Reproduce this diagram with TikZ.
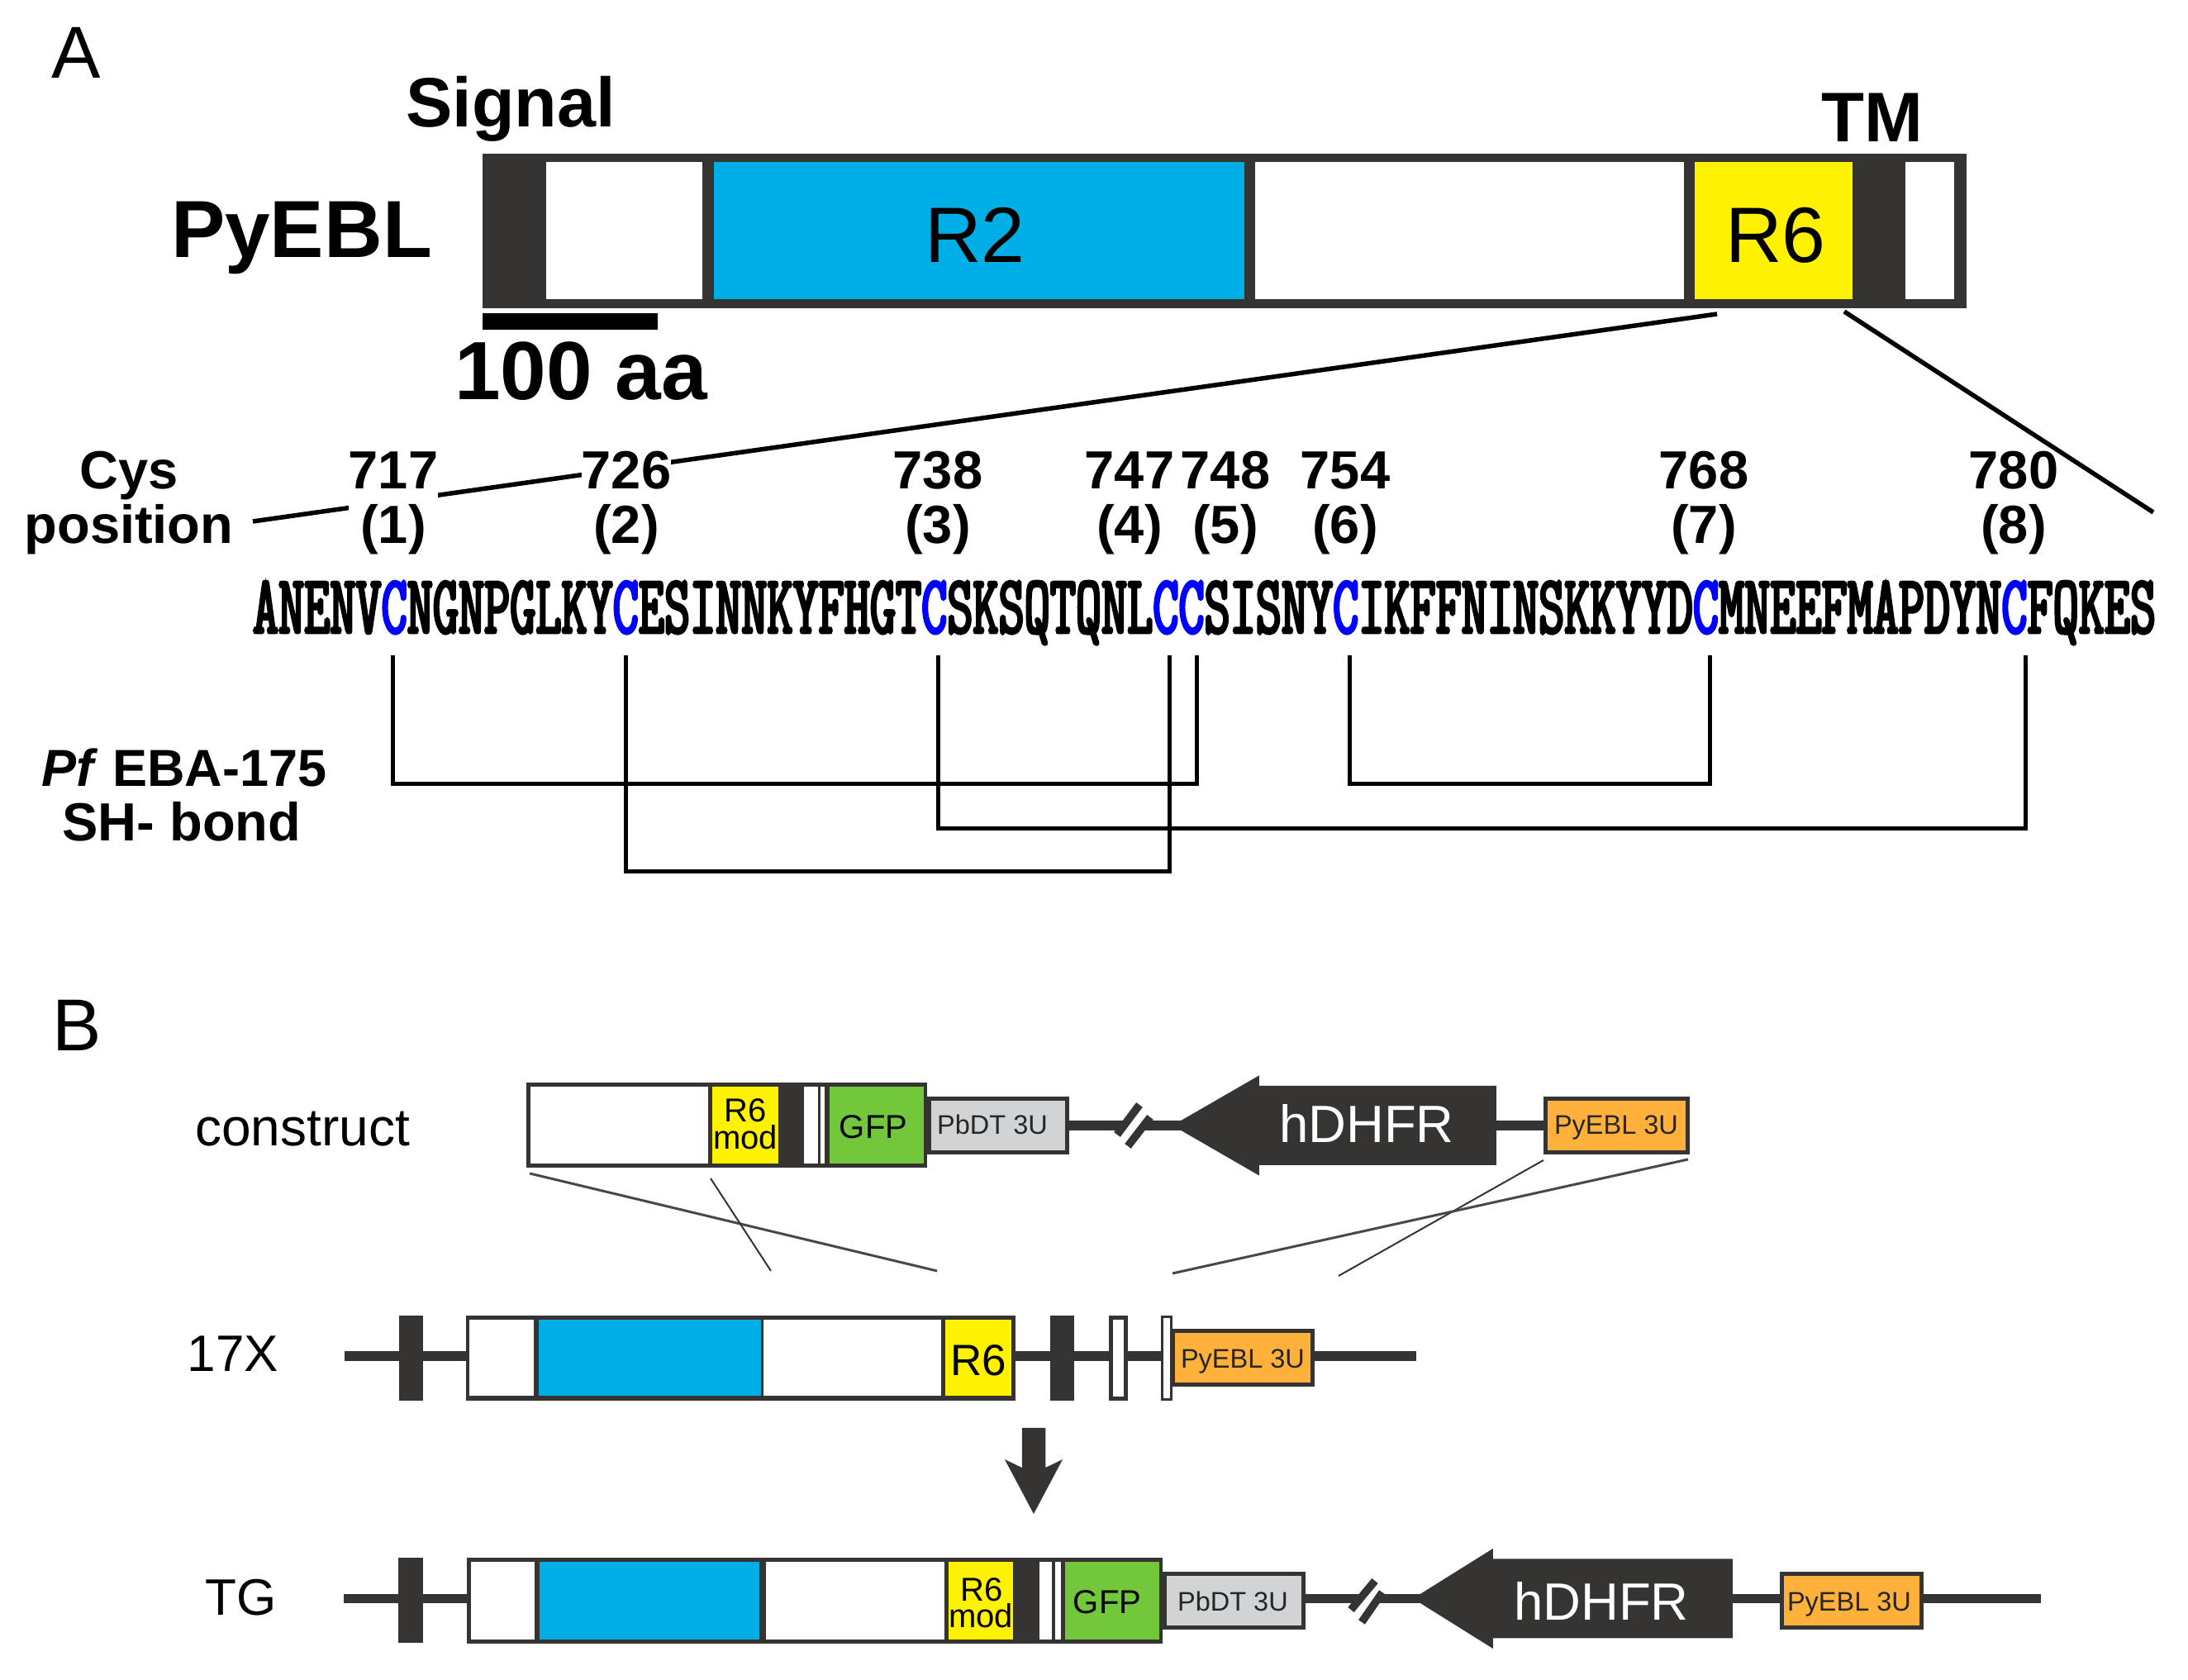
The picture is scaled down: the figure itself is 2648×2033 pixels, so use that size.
\documentclass[tikz,border=0pt]{standalone}
\usepackage{fontspec}
\setmainfont{Liberation Sans}
\newfontfamily\seqfont[FakeBold=3,FakeStretch=0.587]{Latin Modern Mono}
\usetikzlibrary{shapes.arrows}
\definecolor{darkgene}{HTML}{363432}
\definecolor{r2blue}{HTML}{00AEE6}
\definecolor{r6yellow}{HTML}{FFF200}
\definecolor{gfpgreen}{HTML}{72C83A}
\definecolor{utrgray}{HTML}{D1D3D4}
\definecolor{utrorange}{HTML}{FFB13B}
\definecolor{cysblue}{HTML}{0000FF}
\newcommand{\cys}{\textcolor{cysblue}{C}}
\tikzset{
  seg/.style = {rectangle,inner sep=0pt,outer sep=0pt,draw=none},
  dark/.style = {seg,fill=darkgene},
  utr/.style = {seg,draw=darkgene,line width=0.5,minimum height=6.5pt},
  lab/.style = {inner sep=0pt,anchor=base,text=black},
  big/.style = {lab,font=\bfseries\fontsize{9.8}{10}\selectfont},
  small/.style = {lab,font=\fontsize{4}{4}\selectfont},
  utrtext/.style = {lab,font=\fontsize{3.25}{4}\selectfont,text=black!85},
  rowname/.style = {lab,font=\fontsize{6.4}{8}\selectfont},
  dhfr/.style = {seg,fill=darkgene,single arrow,shape border rotate=180,anchor=tip,
    inner ysep=4.6pt,minimum height=39.2pt,single arrow head extend=1.25pt,
    single arrow tip angle=60},
  dhfrtext/.style = {lab,font=\fontsize{6.35}{8}\selectfont,text=white},
  cyspos/.style = {seg,fill=white,align=center,font=\bfseries\fontsize{6.5}{6.6}\selectfont},
  zoomline/.style = {draw=black,line width=0.55},
  bond/.style = {draw=black,line width=0.5},
  backbone/.style = {draw=darkgene,line width=1.15},
  breakbar/.style = {draw=darkgene,line width=0.95},
  cross/.style = {draw=darkgene!90,line width=0.3},
  thincross/.style = {draw=darkgene,line width=0.2},
}
\begin{document}
\begin{tikzpicture}[x=0.1pt,y=-0.1pt]
    \useasboundingbox (0,0) rectangle (2648,2033);

    % panel A
    \node[lab,font=\fontsize{8.9}{10}\selectfont] at (92,95) (panelA) {A};
    \node[big,font=\bfseries\fontsize{8.45}{10}\selectfont] at (618,154) (signal) {Signal};
    \node[big,font=\bfseries\fontsize{8.5}{10}\selectfont] at (2266,172) (tm) {TM};
    \node[big] at (365,312) (pyebl) {PyEBL};

    \node[dark,minimum width=179.6pt,minimum height=18.7pt] at (1482,279.5) (protein) {};
    \node[seg,fill=white,minimum width=18.9pt,minimum height=16.65pt] at (755.5,279.25) (ectoA) {};
    \node[seg,fill=r2blue,minimum width=64.2pt,minimum height=16.65pt] at (1185,279.25) (regionR2) {};
    \node[seg,fill=white,minimum width=51.9pt,minimum height=16.65pt] at (1778.5,279.25) (ectoB) {};
    \node[seg,fill=r6yellow,minimum width=19.1pt,minimum height=16.65pt] at (2146.5,279.25) (regionR6) {};
    \node[seg,fill=white,minimum width=5.9pt,minimum height=16.65pt] at (2335.5,279.25) (cyto) {};
    \node[lab,font=\fontsize{9.5}{10}\selectfont] at (1180,318) (textR2) {R2};
    \node[lab,font=\fontsize{9.5}{10}\selectfont] at (2149,318) (textR6) {R6};

    \node[seg,fill=black,minimum width=21.2pt,minimum height=2pt] at (690,389) (scalebar) {};
    \node[big,font=\bfseries\fontsize{10}{10}\selectfont] at (703,484) (scaletext) {100 aa};

    % lines from R6 down to the sequence
    \coordinate (zoomL) at (2078,380);
    \coordinate (zoomLend) at (306,631);
    \coordinate (zoomR) at (2232,377);
    \coordinate (zoomRend) at (2606,620);
    \draw[zoomline] (zoomL) -- (zoomLend);

    \node[cyspos] at (156,609) (cyslabel) {Cys\\position};
    \node[cyspos] at (476,609) (pos1) {717\\(1)};
    \node[cyspos] at (758,609) (pos2) {726\\(2)};
    \node[cyspos] at (1135,609) (pos3) {738\\(3)};
    \node[cyspos] at (1367,609) (pos4) {747\\(4)};
    \node[cyspos] at (1483,609) (pos5) {748\\(5)};
    \node[cyspos] at (1628,609) (pos6) {754\\(6)};
    \node[cyspos] at (2062,609) (pos7) {768\\(7)};
    \node[cyspos] at (2437,609) (pos8) {780\\(8)};
    \draw[zoomline] (zoomR) -- (zoomRend);

    \node[lab,anchor=base west,font=\seqfont\fontsize{10.1}{10}\selectfont] at (304,766) (sequence)
      {ANENV\cys NGNPGLKY\cys ESINNKYFHGT\cys SKSQTQNL\cys\cys SISNY\cys IKFFNINSKKYYD\cys MNEEFMAPDYN\cys FQKES};

    % disulfide bonds
    \coordinate (cys1) at (475,793);
    \coordinate (cys2) at (757,793);
    \coordinate (cys3) at (1135,793);
    \coordinate (cys4) at (1415,793);
    \coordinate (cys5) at (1448,793);
    \coordinate (cys6) at (1633,793);
    \coordinate (cys7) at (2069,793);
    \coordinate (cys8) at (2451,793);
    \draw[bond] (cys1) -- (475,949) -- (1448,949) -- (cys5);
    \draw[bond] (cys2) -- (757,1055) -- (1415,1055) -- (cys4);
    \draw[bond] (cys3) -- (1135,1003) -- (2451,1003) -- (cys8);
    \draw[bond] (cys6) -- (1633,949) -- (2069,949) -- (cys7);

    \node[lab,font=\bfseries\fontsize{6.3}{8}\selectfont] at (223,952) (pftext) {\textit{Pf} EBA-175};
    \node[lab,font=\bfseries\fontsize{6.5}{8}\selectfont] at (220,1018) (sstext) {SH- bond};

    % panel B
    \node[lab,font=\fontsize{8.9}{10}\selectfont] at (93,1272) (panelB) {B};
    \node[rowname] at (366,1387) (constructtext) {construct};
    \node[rowname,font=\fontsize{6.2}{8}\selectfont] at (282,1660) (textx) {17X};
    \node[rowname,font=\fontsize{6.2}{8}\selectfont] at (292,1955) (texttg) {TG};

    % construct
    \node[dark,minimum width=48.5pt,minimum height=10.3pt] at (879.5,1362) (cons) {};
    \node[seg,fill=white,minimum width=21.5pt,minimum height=9.3pt] at (749.5,1362) (consEcto) {};
    \node[seg,fill=r6yellow,minimum width=8pt,minimum height=9.3pt] at (902,1362) (consMod) {};
    \node[seg,fill=white,minimum width=1.7pt,minimum height=9.3pt] at (981.5,1362) (consW1) {};
    \node[seg,fill=white,minimum width=0.5pt,minimum height=9.3pt] at (995.5,1362) (consW2) {};
    \node[seg,fill=gfpgreen,minimum width=11.4pt,minimum height=9.3pt] at (1061,1362) (consGfp) {};
    \node[utr,fill=utrgray,minimum width=16.75pt] at (1208,1362) (consPb) {};
    \node[utr,fill=utrorange,minimum width=17.15pt] at (1956.5,1362) (consPy) {};
    \node[dhfr] at (1419,1362) (consDhfr) {};

    \coordinate (consBreakA) at (1361,1362);
    \coordinate (consBreakB) at (1385,1362);
    \draw[backbone] (consPb.east) -- (consBreakA);
    \draw[backbone] (consBreakB) -- (consDhfr.tip);
    \draw[backbone] (consDhfr.west) -- (consPy.west);
    \draw[breakbar] (1379,1337) -- (1352,1373);
    \draw[breakbar] (1392,1352) -- (1365,1387);

    \node[small] at (902,1358) (consR6) {R6};
    \node[small] at (902,1391) (consModtext) {mod};
    \node[small] at (1057,1378) (consGfptext) {GFP};
    \node[utrtext] at (1201,1373) (consPbtext) {PbDT 3U};
    \node[utrtext] at (1956,1373) (consPytext) {PyEBL 3U};
    \node[dhfrtext] at (1654,1383) (consDhfrtext) {hDHFR};

    % crossover lines
    \coordinate (crossA) at (641,1420);
    \coordinate (crossAend) at (1134,1538);
    \coordinate (crossB) at (860,1426);
    \coordinate (crossBend) at (933,1538);
    \coordinate (crossC) at (1868,1404);
    \coordinate (crossCend) at (1620,1544);
    \coordinate (crossD) at (2043,1403);
    \coordinate (crossDend) at (1419,1541);
    \draw[cross] (crossA) -- (crossAend);
    \draw[thincross] (crossB) -- (crossBend);
    \draw[thincross] (crossC) -- (crossCend);
    \draw[cross] (crossD) -- (crossDend);

    % 17X locus
    \coordinate (xStart) at (417,1641);
    \coordinate (xEnd) at (1714,1641);
    \node[dark,minimum width=66.6pt,minimum height=10.3pt] at (896.5,1643.5) (xgene) {};
    \node[utr,fill=utrorange,minimum height=6.5pt,minimum width=16.9pt] at (1504,1643) (xPy) {};
    \draw[backbone] (xStart) -- (xStart -| xgene.west);
    \draw[backbone] (xStart -| xgene.east) -- (xStart -| xPy.west);
    \draw[backbone] (xStart -| xPy.east) -- (xEnd);
    \node[seg,fill=white,minimum width=7.8pt,minimum height=9.2pt] at (607,1643.5) (xEcto) {};
    \node[seg,fill=r2blue,minimum width=26.95pt,minimum height=9.2pt] at (786.5,1643.5) (xR2) {};
    \node[seg,fill=white,minimum width=21.5pt,minimum height=9.2pt] at (1031.5,1643.5) (xEctoB) {};
    \node[seg,fill=r6yellow,minimum width=8pt,minimum height=9.2pt] at (1184,1643.5) (xR6) {};
    \node[lab,font=\fontsize{5.3}{6}\selectfont] at (1184,1665) (xR6text) {R6};
    \node[dark,minimum width=2.95pt,minimum height=10.3pt] at (497.5,1643.5) (xExonA) {};
    \node[dark,minimum width=2.9pt,minimum height=10.3pt] at (1285.5,1643.5) (xExonB) {};
    \node[seg,fill=white,draw=darkgene,line width=0.5,minimum width=1.8pt,minimum height=9.8pt] at (1353.5,1643.5) (xExonC) {};
    \node[seg,fill=white,draw=darkgene,line width=0.3,minimum width=1.1pt,minimum height=10pt] at (1412,1643.5) (xExonD) {};
    \node[utrtext] at (1504,1656) (xPytext) {PyEBL 3U};

    % recombination arrow
    \node[seg,fill=darkgene,single arrow,shape border rotate=270,anchor=tip,minimum height=10.4pt,
      inner xsep=1.225pt,single arrow head extend=2.08pt,single arrow head indent=1pt,
      single arrow tip angle=56] at (1251,1832) (recomb) {};

    % TG locus
    \coordinate (tgStart) at (416,1934.5);
    \coordinate (tgEnd) at (2470,1934.5);
    \coordinate (tgBreakA) at (1646,1934.5);
    \coordinate (tgBreakB) at (1667,1934.5);
    \node[dark,minimum width=84.2pt,minimum height=10.4pt] at (986,1937) (tgene) {};
    \node[utr,fill=utrgray,minimum width=16.8pt] at (1493.5,1937.5) (tgPb) {};
    \node[utr,fill=utrorange,minimum width=17pt] at (2241,1937.5) (tgPy) {};
    \node[dhfr,minimum height=38.7pt,single arrow tip angle=64] at (1710,1934.5) (tgDhfr) {};
    \draw[backbone] (tgStart) -- (tgStart -| tgene.west);
    \draw[backbone] (tgStart -| tgPb.east) -- (tgBreakA);
    \draw[backbone] (tgBreakB) -- (tgDhfr.tip);
    \draw[backbone] (tgDhfr.west) -- (tgStart -| tgPy.west);
    \draw[backbone] (tgStart -| tgPy.east) -- (tgEnd);
    \draw[breakbar] (1664,1913) -- (1635,1948);
    \draw[breakbar] (1673,1927) -- (1648,1963);
    \node[seg,fill=white,minimum width=7.7pt,minimum height=9.4pt] at (608.5,1937) (tgEcto) {};
    \node[seg,fill=r2blue,minimum width=26.6pt,minimum height=9.4pt] at (786,1937) (tgR2) {};
    \node[seg,fill=white,minimum width=21.6pt,minimum height=9.4pt] at (1035,1937) (tgEctoB) {};
    \node[seg,fill=r6yellow,minimum width=7.9pt,minimum height=9.4pt] at (1187,1937) (tgMod) {};
    \node[seg,fill=white,minimum width=1.5pt,minimum height=9.4pt] at (1265.5,1937) (tgW1) {};
    \node[seg,fill=white,minimum width=0.7pt,minimum height=9.4pt] at (1280.5,1937) (tgW2) {};
    \node[seg,fill=gfpgreen,minimum width=11.4pt,minimum height=9.4pt] at (1346,1937) (tgGfp) {};
    \node[dark,minimum width=3pt,minimum height=10.3pt] at (497,1936.5) (tgExon) {};
    \node[small] at (1188,1938) (tgR6) {R6};
    \node[small] at (1187,1970) (tgModtext) {mod};
    \node[small] at (1340,1953) (tgGfptext) {GFP};
    \node[utrtext] at (1492,1950) (tgPbtext) {PbDT 3U};
    \node[utrtext] at (2238,1950) (tgPytext) {PyEBL 3U};
    \node[dhfrtext] at (1938,1961) (tgDhfrtext) {hDHFR};
\end{tikzpicture}
\end{document}
